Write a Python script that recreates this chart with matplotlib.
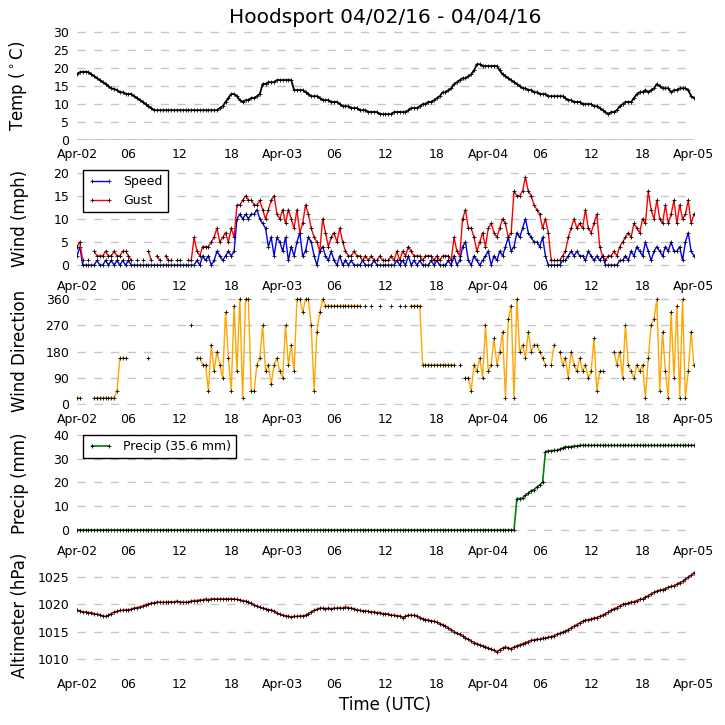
import matplotlib
matplotlib.use('Agg')
import matplotlib.pyplot as plt
import matplotlib.dates as mdates
import numpy as np
import pandas as pd

n = np.nan

# 20-minute observations, Apr-02 00:00 UTC to Apr-05 00:00 UTC
start_time = '2016-04-02 00:00'
step = '20min'

temp_c = [
    18.3, 18.9, 19.0, 19.0, 18.9, 18.3, 17.8, 17.2, 16.7, 16.1, 15.6, 15.0, 14.4, 14.2, 13.9, 13.3, 13.3, 12.8,
    12.8, 12.8, 12.2, 11.7, 11.1, 10.6, 10.0, 9.4, 8.9, 8.3, 8.3, 8.3, 8.3, 8.3, 8.3, 8.3, 8.3, 8.3,
    8.3, 8.3, 8.3, 8.3, 8.3, 8.3, 8.3, 8.3, 8.3, 8.3, 8.3, 8.3, 8.3, 8.3, 8.9, 9.4, 10.6, 11.7,
    12.8, 12.8, 12.2, 11.1, 10.6, 11.1, 11.1, 11.7, 11.7, 12.2, 12.8, 15.6, 15.6, 16.1, 16.1, 16.1, 16.7, 16.7,
    16.7, 16.7, 16.7, 16.7, 13.9, 13.9, 13.9, 13.9, 13.3, 12.8, 12.2, 12.2, 12.2, 11.7, 11.1, 11.1, 11.1, 10.6,
    10.6, 10.6, 10.0, 9.4, 9.4, 9.4, 8.9, 8.9, 8.9, 8.3, 8.3, 8.3, 7.8, 7.8, 7.8, 7.8, 7.2, 7.2,
    7.2, 7.2, 7.2, 7.8, 7.8, 7.8, 7.8, 7.8, 8.3, 8.9, 8.9, 8.9, 9.4, 10.0, 10.0, 10.6, 10.6, 11.1,
    11.7, 12.2, 13.3, 13.3, 13.9, 14.4, 15.6, 16.1, 16.7, 17.2, 17.2, 17.8, 18.3, 19.4, 21.1, 21.1, 20.6, 20.6,
    20.6, 20.6, 20.6, 20.6, 19.4, 18.3, 17.8, 17.2, 16.7, 16.1, 15.6, 15.0, 14.4, 14.4, 13.9, 13.9, 13.3, 13.3,
    12.8, 12.8, 12.8, 12.2, 12.2, 12.2, 12.2, 12.2, 12.2, 11.7, 11.1, 11.1, 10.6, 10.6, 10.6, 10.0, 10.0, 10.0,
    10.0, 9.4, 9.4, 8.9, 8.3, 7.8, 7.2, 7.8, 7.8, 8.3, 9.4, 10.0, 10.6, 10.6, 10.6, 11.7, 12.8, 13.3,
    13.3, 13.9, 13.3, 13.9, 14.4, 15.6, 15.0, 14.4, 14.4, 14.4, 13.3, 13.9, 13.9, 14.4, 14.4, 14.4, 13.9, 12.2,
    11.7,
]

wind_speed = [
    2, 4, 0, 0, 0, 0, 0, 1, 0, 0, 1, 0, 1, 0, 1, 0, 1, 0,
    1, 0, 0, 0, 0, 0, 0, 0, 0, 0, 0, 0, 0, 0, 0, 0, 0, 0,
    0, 0, 0, 0, 0, 0, 1, 0, 2, 1, 2, 0, 1, 3, 2, 1, 2, 3,
    2, 3, 10, 11, 10, 11, 10, 11, 11, 12, 10, 9, 8, 4, 6, 2, 6, 5,
    3, 6, 1, 4, 2, 5, 7, 2, 3, 6, 5, 2, 0, 3, 4, 2, 1, 3,
    1, 0, 2, 0, 1, 0, 1, 0, 0, 0, 1, 0, 0, 0, 1, 0, 0, 0,
    0, 0, 0, 0, 1, 0, 1, 0, 2, 0, 1, 0, 1, 0, 0, 0, 1, 0,
    1, 0, 0, 0, 1, 0, 2, 0, 1, 4, 5, 1, 0, 2, 1, 0, 1, 2,
    3, 0, 2, 1, 3, 2, 4, 6, 3, 4, 7, 6, 8, 10, 7, 6, 5, 5,
    4, 6, 2, 0, 0, 0, 0, 0, 1, 1, 2, 3, 2, 3, 2, 2, 1, 3,
    2, 1, 2, 1, 2, 0, 0, 0, 0, 0, 1, 1, 2, 1, 3, 2, 4, 3,
    2, 5, 3, 1, 3, 4, 3, 2, 4, 3, 5, 3, 3, 4, 1, 5, 7, 3,
    2,
]

wind_gust = [
    4, 5, 1, n, 1, n, 3, 2, 2, 2, 3, 2, 2, 3, 2, 2, 3, 3,
    2, 1, n, 1, n, 1, n, 3, 1, n, 2, 1, n, 2, 1, 1, n, 1,
    1, n, n, 1, 1, 6, 3, 2, 4, 4, 4, 5, 6, 8, 5, 6, 7, 5,
    8, 6, 13, 13, 14, 15, 14, 14, 13, 13, 14, 12, 10, 12, 14, 15, 11, 10,
    12, 9, 12, 10, 8, 12, 7, 9, 13, 11, 8, 6, 5, 3, 10, 7, 4, 6,
    7, 5, 8, 5, 3, 2, 2, 3, 2, 2, 1, 2, 1, 2, 1, 1, 2, 1,
    1, 1, 2, 1, 3, 1, 3, 2, 4, 3, 2, 2, 2, 1, 2, 2, 2, 1,
    2, 1, 2, 2, 2, 1, 6, 3, 2, 10, 12, 8, 8, 6, 3, 5, 7, 4,
    8, 9, 7, 6, 8, 10, 9, 6, 7, 16, 15, 15, 16, 19, 16, 15, 13, 12,
    11, 8, 10, 7, 1, 1, 1, 1, 2, 3, 6, 8, 10, 8, 9, 8, 12, 8,
    7, 9, 11, 4, 2, 1, 2, 2, 3, 2, 4, 5, 6, 7, 6, 9, 8, 7,
    10, 9, 16, 12, 10, 14, 10, 9, 13, 9, 11, 14, 9, 13, 10, 11, 14, 9,
    11,
]

wind_dir = [
    22, 22, n, n, n, n, 22, 22, 22, 22, 22, 22, 22, 22, 45, 158, 158, 158,
    n, n, n, n, n, n, n, 158, n, n, n, n, n, n, n, n, n, n,
    n, n, n, n, 270, n, 158, 158, 135, 135, 45, 202, 112, 180, 135, 90, 315, 158,
    45, 338, 112, 360, 22, 360, 360, 45, 45, 135, 158, 270, 112, 135, 68, 135, 158, 112,
    90, 270, 135, 202, 112, 360, 360, 315, 360, 360, 270, 45, 248, 315, 360, 338, 338, 338,
    338, 338, 338, 338, 338, 338, 338, 338, 338, 338, n, 338, n, 338, n, n, 338, n,
    n, n, 338, n, n, 338, n, 338, n, 338, 338, 338, 338, 135, 135, 135, 135, 135,
    135, 135, 135, 135, 135, 135, 135, n, 135, n, 90, 90, 45, 135, 112, 158, 90, 270,
    112, 135, 225, 135, 180, 248, 22, 292, 338, 22, 360, 180, 202, 158, 248, 180, 202, 202,
    180, 158, 135, n, 135, 202, n, 180, 135, 158, 90, 180, 135, 112, 158, 112, 135, 90,
    112, 225, 45, 112, 112, n, n, n, 180, 135, 180, 90, 270, 135, 112, 90, 135, 112,
    135, 22, 158, 270, 292, 360, 45, 248, 112, 22, 315, 90, 338, 22, 360, 22, 112, 248,
    135,
]

precip_mm = [
    0, 0, 0, 0, 0, 0, 0, 0, 0, 0, 0, 0, 0, 0, 0, 0, 0, 0,
    0, 0, 0, 0, 0, 0, 0, 0, 0, 0, 0, 0, 0, 0, 0, 0, 0, 0,
    0, 0, 0, 0, 0, 0, 0, 0, 0, 0, 0, 0, 0, 0, 0, 0, 0, 0,
    0, 0, 0, 0, 0, 0, 0, 0, 0, 0, 0, 0, 0, 0, 0, 0, 0, 0,
    0, 0, 0, 0, 0, 0, 0, 0, 0, 0, 0, 0, 0, 0, 0, 0, 0, 0,
    0, 0, 0, 0, 0, 0, 0, 0, 0, 0, 0, 0, 0, 0, 0, 0, 0, 0,
    0, 0, 0, 0, 0, 0, 0, 0, 0, 0, 0, 0, 0, 0, 0, 0, 0, 0,
    0, 0, 0, 0, 0, 0, 0, 0, 0, 0, 0, 0, 0, 0, 0, 0, 0, 0,
    0, 0, 0, 0, 0, 0, 0, 0, 0, 0, 13.2, 13.2, 13.5, 14.5, 15.5, 16.5, 17.0, 18.0,
    19.0, 20.0, 33.0, 33.3, 33.3, 33.5, 33.5, 34.0, 34.5, 35.0, 35.0, 35.1, 35.3, 35.3, 35.6, 35.6, 35.6, 35.6,
    35.6, 35.6, 35.6, 35.6, 35.6, 35.6, 35.6, 35.6, 35.6, 35.6, 35.6, 35.6, 35.6, 35.6, 35.6, 35.6, 35.6, 35.6,
    35.6, 35.6, 35.6, 35.6, 35.6, 35.6, 35.6, 35.6, 35.6, 35.6, 35.6, 35.6, 35.6, 35.6, 35.6, 35.6, 35.6, 35.6,
    35.6,
]

altimeter_hpa = [
    1019.0, 1018.8, 1018.6, 1018.6, 1018.5, 1018.5, 1018.3, 1018.2, 1018.1,
    1017.9, 1017.8, 1018.0, 1018.3, 1018.6, 1018.7, 1018.9, 1018.9, 1019.0,
    1019.0, 1019.1, 1019.3, 1019.4, 1019.5, 1019.7, 1019.9, 1020.0, 1020.2,
    1020.3, 1020.4, 1020.4, 1020.4, 1020.4, 1020.4, 1020.5, 1020.4, 1020.6,
    1020.4, 1020.4, 1020.4, 1020.4, 1020.6, 1020.7, 1020.7, 1020.8, 1020.8,
    1021.0, 1020.8, 1021.0, 1021.0, 1021.0, 1021.0, 1021.0, 1021.0, 1021.0,
    1021.0, 1021.0, 1020.9, 1020.8, 1020.7, 1020.6, 1020.4, 1020.2, 1019.9,
    1019.7, 1019.5, 1019.3, 1019.2, 1019.0, 1019.0, 1018.7, 1018.4, 1018.2,
    1018.0, 1017.9, 1017.8, 1017.7, 1017.8, 1017.8, 1017.9, 1017.9, 1018.0,
    1018.3, 1018.6, 1018.9, 1019.1, 1019.3, 1019.3, 1019.2, 1019.3, 1019.2,
    1019.3, 1019.3, 1019.4, 1019.3, 1019.5, 1019.4, 1019.3, 1019.2, 1019.0,
    1018.9, 1018.8, 1018.8, 1018.7, 1018.6, 1018.6, 1018.5, 1018.5, 1018.3,
    1018.3, 1018.2, 1018.0, 1018.0, 1017.9, 1017.9, 1017.6, 1017.8, 1018.0,
    1018.0, 1018.0, 1017.9, 1017.6, 1017.4, 1017.2, 1017.1, 1017.0, 1016.9,
    1016.7, 1016.5, 1016.3, 1016.0, 1015.7, 1015.4, 1015.0, 1014.7, 1014.5,
    1014.2, 1013.9, 1013.6, 1013.3, 1013.0, 1012.8, 1012.6, 1012.4, 1012.2,
    1012.0, 1011.8, 1011.6, 1011.3, 1011.7, 1012.0, 1012.2, 1012.0, 1011.9,
    1012.2, 1012.4, 1012.6, 1012.8, 1013.0, 1013.2, 1013.4, 1013.5, 1013.6,
    1013.6, 1013.8, 1013.8, 1014.0, 1014.1, 1014.3, 1014.5, 1014.7, 1014.9,
    1015.1, 1015.4, 1015.7, 1016.0, 1016.3, 1016.6, 1016.9, 1017.1, 1017.2,
    1017.3, 1017.5, 1017.6, 1017.8, 1018.0, 1018.3, 1018.6, 1018.9, 1019.2,
    1019.4, 1019.7, 1020.0, 1020.1, 1020.2, 1020.4, 1020.5, 1020.7, 1020.9,
    1021.0, 1021.3, 1021.6, 1021.9, 1022.2, 1022.4, 1022.6, 1022.7, 1022.9,
    1023.1, 1023.3, 1023.4, 1023.7, 1024.0, 1024.2, 1024.6, 1025.0, 1025.3,
    1025.8,
]

times = pd.date_range(start_time, periods=len(temp_c), freq=step)

mk = dict(marker='+', markersize=2.2, markeredgecolor='k', markerfacecolor='k', markeredgewidth=0.6)


def fmt_time(x, pos):
    d = mdates.num2date(x)
    return d.strftime('%b-%d') if d.hour == 0 else d.strftime('%H')


def style_axis(ax, ylabel, yticks, ylim):
    for s in ax.spines.values():
        s.set_visible(False)
    ax.set_xlim(pd.Timestamp('2016-04-02 00:00'), pd.Timestamp('2016-04-05 00:00'))
    ax.xaxis.set_major_locator(mdates.HourLocator(byhour=[0, 6, 12, 18]))
    ax.xaxis.set_major_formatter(plt.FuncFormatter(fmt_time))
    ax.set_yticks(yticks)
    ax.set_ylim(*ylim)
    ax.tick_params(length=0, labelsize=9, pad=5.5)
    ax.yaxis.grid(True, linestyle=(0, (6, 6)), color='0.78', linewidth=1)
    ax.set_axisbelow(True)
    ax.set_ylabel(ylabel, fontsize=12)
    ax.yaxis.set_label_coords(-0.078, 0.5)


fig = plt.figure(figsize=(7.25, 7.25), dpi=100)
left, width, height = 0.1062, 0.851, 0.150
bottoms = [0.8069, 0.6241, 0.4414, 0.2586, 0.0759]
axes = [fig.add_axes([left, b, width, height]) for b in bottoms]

# Temperature
ax = axes[0]
ax.axhline(0, color='k', linewidth=1)
ax.plot(times, temp_c, color='k', linewidth=1.3, **mk)
style_axis(ax, r'Temp ($^\circ$C)', [0, 5, 10, 15, 20, 25, 30], (0, 30.3))
ax.set_title('Hoodsport 04/02/16 - 04/04/16', fontsize=14.5)

# Wind speed / gust
ax = axes[1]
ax.plot(times, wind_speed, color='blue', linewidth=1, label='Speed', **mk)
ax.plot(times, wind_gust, color='red', linewidth=1, label='Gust', **mk)
style_axis(ax, 'Wind (mph)', [0, 5, 10, 15, 20], (-1.6, 21.9))
ax.legend(loc='upper left', fontsize=9, numpoints=2, fancybox=False,
          edgecolor='k', framealpha=1)

# Wind direction
ax = axes[2]
ax.plot(times, wind_dir, color='orange', linewidth=1, **mk)
style_axis(ax, 'Wind Direction', [0, 90, 180, 270, 360], (-3.4, 370))

# Precipitation
ax = axes[3]
ax.plot(times, precip_mm, color='green', linewidth=1.2,
        label=f'Precip ({precip_mm[-1]:.1f} mm)', **mk)
style_axis(ax, 'Precip (mm)', [0, 10, 20, 30, 40], (-3.2, 42.6))
ax.legend(loc='upper left', fontsize=9, numpoints=2, fancybox=False,
          edgecolor='k', framealpha=1)

# Altimeter
ax = axes[4]
ax.plot(times, altimeter_hpa, color='red', linewidth=1.2, **mk)
style_axis(ax, 'Altimeter (hPa)', [1010, 1015, 1020, 1025], (1008, 1027.9))
ax.set_xlabel('Time (UTC)', fontsize=12)

fig.savefig('out.png', dpi=100)
